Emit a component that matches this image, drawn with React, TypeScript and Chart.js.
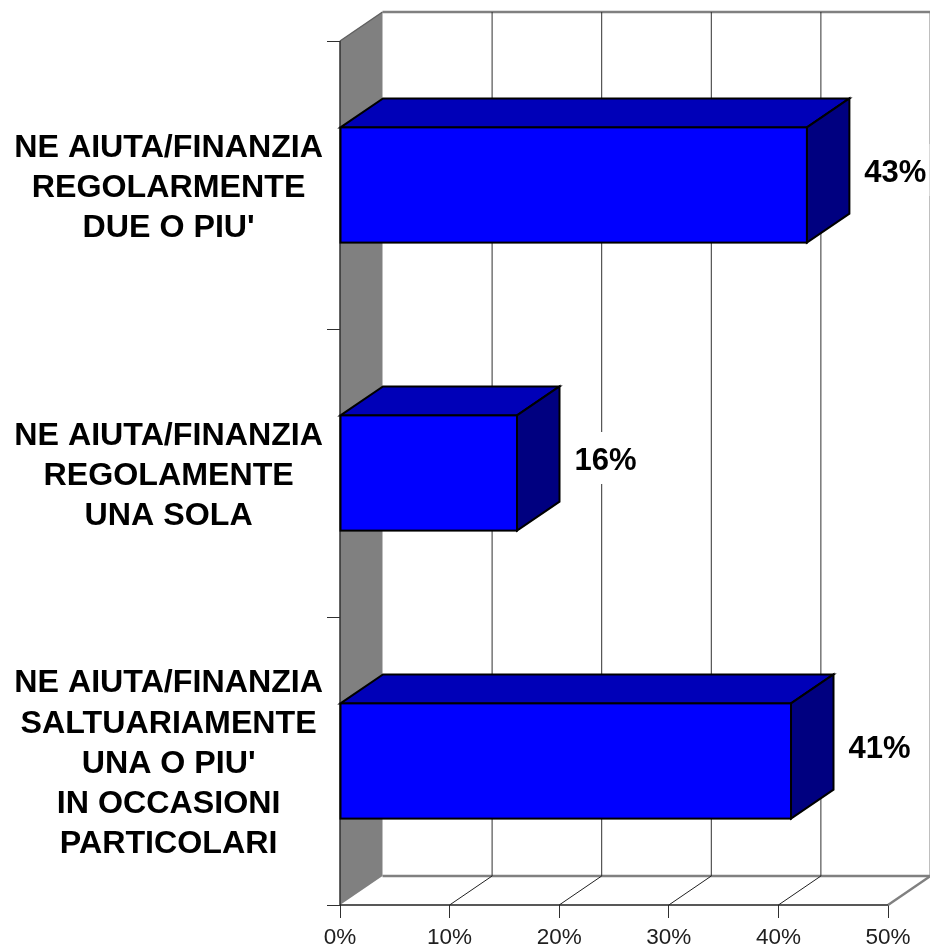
import React, { useEffect, useRef } from "react";
import { Chart, registerables } from "chart.js";

Chart.register(...registerables);

const categories: string[][] = [
  ["NE AIUTA/FINANZIA", "REGOLARMENTE", "DUE O PIU'"],
  ["NE AIUTA/FINANZIA", "REGOLAMENTE", "UNA SOLA"],
  ["NE AIUTA/FINANZIA", "SALTUARIAMENTE", "UNA O PIU'", "IN OCCASIONI", "PARTICOLARI"],
];
const values = [42.6, 16.15, 41.15];
const valueLabels = ["43%", "16%", "41%"];
const xTicks = [0, 10, 20, 30, 40, 50];

const DX = 42.5;
const DY = 29;
const FONT = "Arial, 'Liberation Sans', sans-serif";

const poly = (ctx: CanvasRenderingContext2D, pts: number[][], fill: string | null, stroke: string | null, lw = 2) => {
  ctx.beginPath();
  pts.forEach(([x, y], i) => (i ? ctx.lineTo(x, y) : ctx.moveTo(x, y)));
  ctx.closePath();
  if (fill) {
    ctx.fillStyle = fill;
    ctx.fill();
  }
  if (stroke) {
    ctx.strokeStyle = stroke;
    ctx.lineWidth = lw;
    ctx.lineJoin = "miter";
    ctx.stroke();
  }
};
const line = (ctx: CanvasRenderingContext2D, x1: number, y1: number, x2: number, y2: number, c: string, lw: number) => {
  ctx.beginPath();
  ctx.moveTo(x1, y1);
  ctx.lineTo(x2, y2);
  ctx.strokeStyle = c;
  ctx.lineWidth = lw;
  ctx.stroke();
};

const perspective = {
  id: "perspective",
  beforeDatasetsDraw(chart: any) {
    const { ctx, chartArea: a, scales } = chart;
    const x = scales.x;
    ctx.save();
    // left wall
    poly(ctx, [[a.left, a.top], [a.left + DX, a.top - DY], [a.left + DX, a.bottom - DY], [a.left, a.bottom]], "#808080", null);
    // back wall top and floor edges
    line(ctx, a.left, a.top, a.left + DX, a.top - DY, "#606060", 1.5);
    line(ctx, a.left + DX, a.top - DY, a.right + DX, a.top - DY, "#808080", 2.5);
    line(ctx, a.left + DX, a.bottom - DY, a.right + DX, a.bottom - DY, "#808080", 2.5);
    // gridlines
    xTicks.forEach((t) => {
      const px = x.getPixelForValue(t);
      const last = t === xTicks[xTicks.length - 1];
      if (t > 0) {
        line(ctx, px + DX, a.top - DY, px + DX, a.bottom - DY, last ? "#808080" : "#303030", last ? 2 : 1);
        line(ctx, px, a.bottom, px + DX, a.bottom - DY, last ? "#808080" : "#202020", last ? 2.5 : 1);
      }
    });
    // 3D faces of the bars
    const meta = chart.getDatasetMeta(0);
    meta.data.forEach((b: any) => {
      const top = b.y - b.height / 2;
      const bottom = b.y + b.height / 2;
      poly(ctx, [[b.base, top], [b.base + DX, top - DY], [b.x + DX, top - DY], [b.x, top]], "#0000B8", "#000000");
      poly(ctx, [[b.x, top], [b.x + DX, top - DY], [b.x + DX, bottom - DY], [b.x, bottom]], "#000080", "#000000");
    });
    ctx.restore();
  },
  afterDatasetsDraw(chart: any) {
    const { ctx, chartArea: a } = chart;
    const meta = chart.getDatasetMeta(0);
    ctx.save();
    line(ctx, a.left, a.top, a.left, a.bottom, "#303030", 1.5);
    line(ctx, a.left, a.bottom, a.right, a.bottom, "#202020", 1.5);
    ctx.font = `bold 31px ${FONT}`;
    ctx.textAlign = "center";
    ctx.textBaseline = "middle";
    meta.data.forEach((b: any, i: number) => {
      const top = b.y - b.height / 2;
      ctx.strokeStyle = "#000000";
      ctx.lineWidth = 2;
      ctx.strokeRect(b.base, top, b.x - b.base, b.height);
      const cx = b.x + 88.5;
      const cy = b.y - 15;
      const w = ctx.measureText(valueLabels[i]).width + 6;
      ctx.fillStyle = "#FFFFFF";
      ctx.fillRect(cx - w / 2, cy - 26, w, 52);
      ctx.fillStyle = "#000000";
      ctx.fillText(valueLabels[i], cx, cy + 3);
    });
    ctx.restore();
  },
};

export default function App() {
  const ref = useRef<HTMLCanvasElement>(null);
  useEffect(() => {
    const chart = new Chart(ref.current as HTMLCanvasElement, {
      type: "bar",
      data: {
        labels: categories as any,
        datasets: [
          {
            data: values,
            backgroundColor: "#0000FF",
            borderWidth: 0,
            categoryPercentage: 1,
            barPercentage: 0.4,
          },
        ],
      },
      plugins: [perspective as any],
      options: {
        indexAxis: "y",
        responsive: false,
        animation: false,
        layout: { padding: { top: 41, right: 42, left: 0, bottom: 0 } },
        plugins: { legend: { display: false }, tooltip: { enabled: false } },
        scales: {
          x: {
            min: 0,
            max: 50,
            afterFit: (s: any) => {
              s.height = 41;
              s.paddingLeft = 0;
              s.paddingRight = 0;
            },
            grid: { drawOnChartArea: false, drawTicks: true, tickLength: 13, color: "#303030" },
            border: { display: false },
            ticks: {
              stepSize: 10,
              padding: 6,
              maxRotation: 0,
              color: "#202020",
              font: { family: FONT, size: 22.5 },
              callback: (v: any) => `${v}%`,
            },
          },
          y: {
            afterFit: (s: any) => {
              s.width = 340;
              s.paddingTop = 0;
              s.paddingBottom = 0;
            },
            grid: { drawOnChartArea: false, drawTicks: true, tickLength: 13, color: "#303030" },
            border: { display: false },
            ticks: {
              autoSkip: false,
              crossAlign: "center",
              padding: 4,
              labelOffset: 3,
              color: "#000000",
              font: { family: FONT, size: 32.2, weight: "bold", lineHeight: 1.25 },
            },
          },
        },
      } as any,
    });
    return () => chart.destroy();
  }, []);
  return (
    <div style={{ position: "absolute", left: 0, top: 0, width: 930, height: 946, background: "#fff" }}>
      <canvas ref={ref} width={930} height={946} style={{ display: "block" }} />
    </div>
  );
}
